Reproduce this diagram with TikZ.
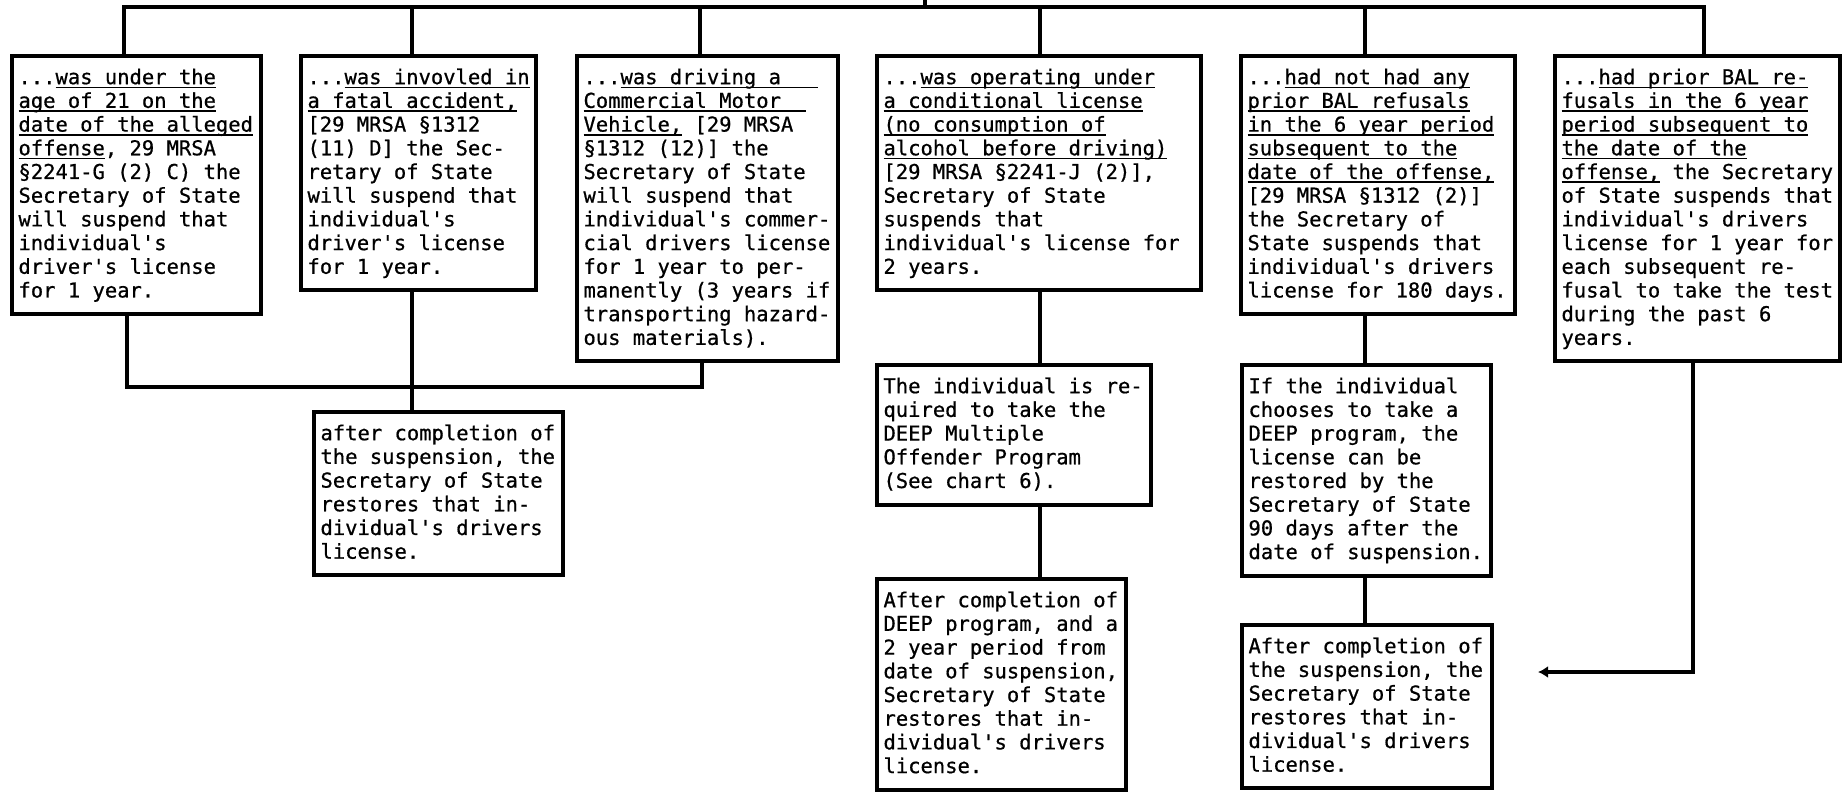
\documentclass[tikz,border=0pt]{standalone}
\usepackage{fontspec}
\usetikzlibrary{arrows.meta}
\newfontfamily\mono{DejaVu Sans Mono}[FakeBold=0.7]
% underline at a fixed depth below the baseline, cutting through descenders
\newcommand\ul[1]{\setbox0=\hbox{#1}\rlap{\rule[-4pt]{\wd0}{1.6pt}}\box0\relax}
% framed text box: name, left, top, outer width, number of lines, text
\newcommand\tbox[6]{%
  \node[box, minimum width={#4-4}, minimum height={21+23.7*#5}] (#1) at (#2,#3) {};
  \node[txt] (#1t) at ([shift={(8.5,13.6)}]#1.north west) {\strut#6};
}
\begin{document}
\begin{tikzpicture}[x=1pt, y=-1pt, line width=4pt,
  box/.style={draw, line width=4pt, inner sep=0pt, anchor=north west},
  txt/.style={anchor=north west, inner sep=0pt, outer sep=0pt,
    align=left, font=\mono\fontsize{20.5pt}{23.7pt}\selectfont}]
\fill[white] (0,0) rectangle (1848,792);
\useasboundingbox (0,0) rectangle (1848,792);

% first row of conditions
\tbox{b1}{10}{54}{253}{10}{...\ul{was under the}\\
\ul{age of 21 on the}\\
\ul{date of the alleged}\\
\ul{offense}, 29 MRSA\\
§2241-G (2) C) the\\
Secretary of State\\
will suspend that\\
individual's\\
driver's license\\
for 1 year.}

\tbox{b2}{299}{54}{239}{9}{...\ul{was invovled in}\\
\ul{a fatal accident,}\\
{}[29 MRSA §1312\\
(11) D] the Sec-\\
retary of State\\
will suspend that\\
individual's\\
driver's license\\
for 1 year.}

\tbox{b3}{575}{54}{265}{12}{...\ul{was driving a\ \ \ }\\
\ul{Commercial Motor\ \ }\\
\ul{Vehicle,} [29 MRSA\\
§1312 (12)] the\\
Secretary of State\\
will suspend that\\
individual's commer-\\
cial drivers license\\
for 1 year to per-\\
manently (3 years if\\
transporting hazard-\\
ous materials).}

\tbox{b4}{875}{54}{328}{9}{...\ul{was operating under}\\
\ul{a conditional license}\\
\ul{(no consumption of}\\
\ul{alcohol before driving)}\\
{}[29 MRSA §2241-J (2)],\\
Secretary of State\\
suspends that\\
individual's license for\\
2 years.}

\tbox{b5}{1239}{54}{278}{10}{...\ul{had not had any}\\
\ul{prior BAL refusals}\\
\ul{in the 6 year period}\\
\ul{subsequent to the}\\
\ul{date of the offense,}\\
{}[29 MRSA §1312 (2)]\\
the Secretary of\\
State suspends that\\
individual's drivers\\
license for 180 days.}

\tbox{b6}{1553}{54}{289}{12}{...\ul{had prior BAL re-}\\
\ul{fusals in the 6 year}\\
\ul{period subsequent to}\\
\ul{the date of the}\\
\ul{offense,} the Secretary\\
of State suspends that\\
individual's drivers\\
license for 1 year for\\
each subsequent re-\\
fusal to take the test\\
during the past 6\\
years.}

% follow-up boxes
\tbox{b7}{312}{410}{253}{6}{after completion of\\
the suspension, the\\
Secretary of State\\
restores that in-\\
dividual's drivers\\
license.}

\tbox{b8}{875}{363}{278}{5}{The individual is re-\\
quired to take the\\
DEEP Multiple\\
Offender Program\\
(See chart 6).}

\tbox{b9}{875}{577}{253}{8}{After completion of\\
DEEP program, and a\\
2 year period from\\
date of suspension,\\
Secretary of State\\
restores that in-\\
dividual's drivers\\
license.}

\tbox{b10}{1240}{363}{253}{8}{If the individual\\
chooses to take a\\
DEEP program, the\\
license can be\\
restored by the\\
Secretary of State\\
90 days after the\\
date of suspension.}

\tbox{b11}{1240}{623}{254}{6}{After completion of\\
the suspension, the\\
Secretary of State\\
restores that in-\\
dividual's drivers\\
license.}

% junction points of the connectors
\coordinate (hub) at (925,-2);
\coordinate (busL) at (124,7);
\coordinate (busR) at (1704,7);
\coordinate (d2) at (412,7);
\coordinate (d3) at (700,7);
\coordinate (d4) at (1040,7);
\coordinate (d5) at (1365,7);
\coordinate (j1) at (127,387);
\coordinate (j3) at (702,387);
\coordinate (k6) at (1693,672);
\coordinate (tip) at (1538,672);

% top bus
\draw (hub) -- (hub |- busL);
\draw (busL |- b1.north) -- (busL) -- (busR) -- (busR |- b6.north);
\draw (d2) -- (d2 |- b2.north);
\draw (d3) -- (d3 |- b3.north);
\draw (d4) -- (d4 |- b4.north);
\draw (d5) -- (d5 |- b5.north);

% lower connectors
\draw (j1 |- b1.south) -- (j1) -- (j3) -- (j3 |- b3.south);
\draw (d2 |- b2.south) -- (d2 |- b7.north);
\draw (d4 |- b4.south) -- (d4 |- b8.north);
\draw (d4 |- b8.south) -- (d4 |- b9.north);
\draw (d5 |- b5.south) -- (d5 |- b10.north);
\draw (d5 |- b10.south) -- (d5 |- b11.north);
\draw[-{Latex[length=10pt,width=12pt]}] (k6 |- b6.south) -- (k6) -- (tip);
\end{tikzpicture}
\end{document}
